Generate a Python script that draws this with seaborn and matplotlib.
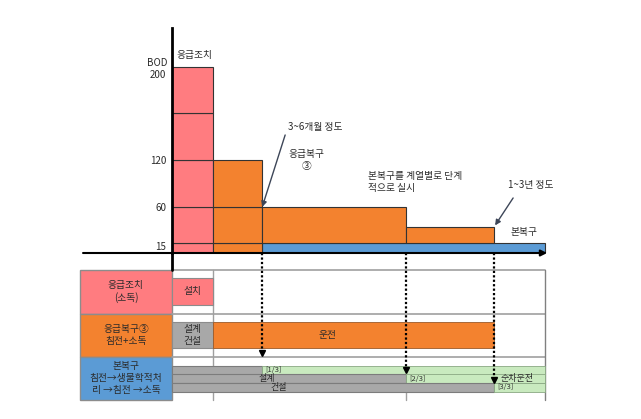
import numpy as np
import matplotlib
matplotlib.use("Agg")
import matplotlib.pyplot as plt
import seaborn as sns
from matplotlib.transforms import ScaledTranslation

# ---------------- data ----------------
bod_ticks = [15, 60, 120, 200]
bod_tick_labels = ["15", "60", "120", "200"]

# schematic time edges of each stage (arbitrary units)
t_emergency = [0.0, 1.0]
t_recov1 = [1.0, 2.2]
t_recov2 = [2.2, 5.7]
t_recov3 = [5.7, 7.85]
t_main = [2.2, 9.1]

# BOD levels (stacked segment boundaries) per stage
lv_emergency = [0, 15, 60, 120, 160, 200]
lv_recov1 = [0, 15, 60, 120]
lv_recov2 = [15, 60]
lv_recov3 = [15, 35]
lv_main = [0, 15]

row_labels = ["응급조치\n(소독)", "응급복구③\n침전+소독", "본복구\n침전→생물학적처\n리 →침전 →소독"]
main_phase_start = [2.2, 5.7, 7.85]      # start of each 본복구 series operation
main_phase_tags = ["[1/3]", "[2/3]", "[3/3]"]
main_phase_text = ["", "설계", "건설"]
table_end = 9.1

RED = "#FF7C80"
ORANGE = "#F3822F"
BLUE = "#5B9BD5"
GRAY = "#A8A8A8"
GREEN = "#C9EABF"
TXT = "#2a2a2a"

sns.set_style("white")
plt.rcParams["font.family"] = ["Noto Sans CJK KR", "DejaVu Sans"]

W, H = 641, 419
fig = plt.figure(figsize=(W / 100, H / 100), dpi=100)

def rect(l, t, r, b):
    return [l / W, 1 - b / H, (r - l) / W, (b - t) / H]

XL = ((70 - 172) / 41, (560 - 172) / 41)

# ---------------- top chart ----------------
ax = fig.add_axes(rect(70, 28, 560, 253))
_v = np.array([-40, 0, 15, 60, 120, 200, 300], dtype=float)
_p = np.array([-27, 0, 10, 46, 93, 186, 186 + 100 * 1.1625])
ax.set_yscale("function", functions=(lambda v: np.interp(v, _v, _p),
                                     lambda p: np.interp(p, _p, _v)))
ax.set_xlim(*XL)
ax.set_ylim(0, 233.5)

def stacked(x0x1, levels, color):
    x0, x1 = x0x1
    for lo, hi in zip(levels[:-1], levels[1:]):
        ax.bar(x0, hi - lo, bottom=lo, width=x1 - x0, align="edge",
               color=color, edgecolor="#333333", linewidth=0.8)

stacked(t_main, lv_main, BLUE)
stacked(t_emergency, lv_emergency, RED)
stacked(t_recov1, lv_recov1, ORANGE)
stacked(t_recov2, lv_recov2, ORANGE)
stacked(t_recov3, lv_recov3, ORANGE)

for s in ["top", "right", "bottom"]:
    ax.spines[s].set_visible(False)
ax.spines["left"].set_position(("data", 0))
ax.spines["left"].set_linewidth(2.0)
ax.spines["left"].set_color("black")
ax.set_xticks([])
ax.set_yticks(bod_ticks)
ax.set_yticklabels(bod_tick_labels)
ax.tick_params(axis="y", length=0, pad=4, labelsize=7, labelcolor=TXT)
for lab in ax.get_yticklabels():
    dy = {"200": -7, "15": -3}.get(lab.get_text(), 0)
    if dy:
        lab.set_transform(lab.get_transform() + ScaledTranslation(0, dy / 100, fig.dpi_scale_trans))
ax.text(-0.1, 203.5, "BOD", ha="right", va="center", fontsize=7, color=TXT)

ax.annotate("", xy=(9.15, 0), xytext=(-2.17, 0),
            arrowprops=dict(arrowstyle="-|>", color="black", lw=1.5,
                            mutation_scale=9, shrinkA=0, shrinkB=0),
            annotation_clip=False)

ax.text(0.56, 210, "응급조치", ha="center", va="center", fontsize=7, color=TXT)
ax.text(3.49, 148.4, "3~6개월 정도", ha="center", va="center", fontsize=7, color=TXT)
ax.annotate("", xy=(2.2, 60), xytext=(2.76, 141.5),
            arrowprops=dict(arrowstyle="-|>", color="#3d4658", lw=1,
                            mutation_scale=8, shrinkA=0, shrinkB=0))
ax.text(3.29, 120, "응급복구\n③", ha="center", va="center", fontsize=7,
        color=TXT, linespacing=1.3)
ax.text(4.78, 92, "본복구를 계열별로 단계\n적으로 실시", ha="left", va="center",
        fontsize=7, color=TXT, linespacing=1.3)
ax.text(8.76, 88, "1~3년 정도", ha="center", va="center", fontsize=7, color=TXT)
ax.annotate("", xy=(7.88, 37), xytext=(8.32, 71.5),
            arrowprops=dict(arrowstyle="-|>", color="#3d4658", lw=1,
                            mutation_scale=8, shrinkA=0, shrinkB=0))
ax.text(8.59, 28.5, "본복구", ha="center", va="center", fontsize=7, color=TXT)

# ---------------- table / gantt ----------------
bx = fig.add_axes(rect(70, 253, 560, 405))
bx.set_xlim(*XL)
bx.set_ylim(3.103, -0.391)
bx.axis("off")

label_colors = [RED, ORANGE, BLUE]
row_tops = [0, 1, 2]
row_heights = [1, 1, 0.99]
lx0 = (80 - 172) / 41
for lab, c, top, h in zip(row_labels, label_colors, row_tops, row_heights):
    bx.barh(top, -lx0, left=lx0, height=h, align="edge", color=c,
            edgecolor="#8c8c8c", linewidth=1.0)
    bx.text(lx0 / 2, top + 0.49, lab, ha="center", va="center", fontsize=7,
            color=TXT, linespacing=1.25)

# grid lines
for y in row_tops:
    bx.plot([0, table_end], [y, y], color="#a0a0a0", lw=1.2, zorder=1)
bx.plot([t_emergency[1]] * 2, [0, 2.99], color="#a0a0a0", lw=1.0, zorder=1)
bx.plot([table_end] * 2, [0, 2.99], color="#808080", lw=1.0, zorder=1)
bx.plot([main_phase_start[1]] * 2, [2.6, 2.99], color="#a0a0a0", lw=1.0, zorder=1)

# row 1: 응급조치 설치
bx.barh(0.184, t_emergency[1] - t_emergency[0], left=t_emergency[0], height=0.62,
        align="edge", color=RED, edgecolor="#8c8c8c", lw=0.8, zorder=2)
bx.text(0.5, 0.49, "설치", ha="center", va="center", fontsize=7, color=TXT, zorder=3)

# row 2: 응급복구
bx.barh(1.195, t_emergency[1], left=0, height=0.6, align="edge", color=GRAY,
        edgecolor="#8c8c8c", lw=0.8, zorder=2)
bx.text(0.5, 1.49, "설계\n건설", ha="center", va="center", fontsize=7, color=TXT,
        linespacing=1.2, zorder=3)
bx.barh(1.195, t_recov3[1] - t_emergency[1], left=t_emergency[1], height=0.6,
        align="edge", color=ORANGE, edgecolor="#9a5a2a", lw=0.6, zorder=2)
bx.text(3.8, 1.49, "운전", ha="center", va="center", fontsize=7, color=TXT, zorder=3)

# row 3: 본복구 series
sub_tops = [2.207, 2.399, 2.598]
for i, (st, tag, txt) in enumerate(zip(main_phase_start, main_phase_tags, main_phase_text)):
    top = sub_tops[i]
    bx.barh(top, st, left=0, height=0.199, align="edge", color=GRAY,
            edgecolor="#7c7c7c", lw=0.8, zorder=2)
    bx.barh(top, table_end - st, left=st, height=0.199, align="edge", color=GREEN,
            edgecolor="#8aa883", lw=0.6, zorder=2)
    bx.text(st + 0.08, top + 0.1, tag, ha="left", va="center", fontsize=5.5,
            color="#333333", zorder=3)
    if txt:
        bx.text(2.32 if i == 1 else 2.61, top + 0.1, txt, ha="center", va="center",
                fontsize=6.5, color=TXT, zorder=3)
bx.text(8.41, sub_tops[1] + 0.1, "순차운전", ha="center", va="center", fontsize=6.5,
        color=TXT, zorder=3)

# axis line continuing down
bx.plot([0, 0], [-0.391, 0], color="black", lw=2.0, zorder=4, clip_on=False)

# dotted arrows linking chart and schedule
arrow_tips = [1.98, 2.37, 2.6]
for x, tip in zip(main_phase_start, arrow_tips):
    bx.plot([x, x], [-0.391, tip - 0.08], color="black", lw=1.6, ls=(0, (1, 1)),
            zorder=5, clip_on=False)
    bx.plot([x], [tip - 0.07], marker="v", color="black", markersize=4.5, zorder=5)

fig.savefig("out.png", dpi=100)
